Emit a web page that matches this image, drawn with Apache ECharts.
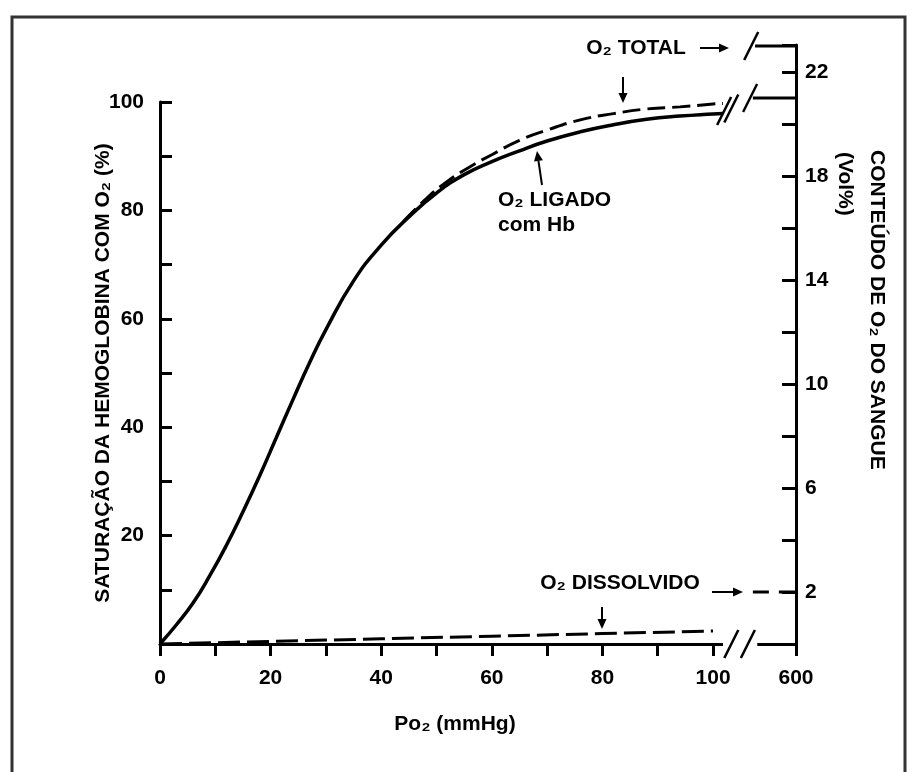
<!DOCTYPE html>
<html>
<head>
<meta charset="utf-8">
<script src="https://cdn.jsdelivr.net/npm/echarts@6/dist/echarts.min.js"></script>
<style>
html, body { margin: 0; padding: 0; background: #fff; }
#chart { width: 917px; height: 772px; }
</style>
</head>
<body>
<div id="chart"></div>
<script>
// O2 ligado com Hb (% de saturação) x Po2 (mmHg)
const po2Hb = [0, 3, 6, 9, 12, 15, 18, 21, 24, 27, 30, 35, 40, 45, 50, 55, 60, 65, 70, 76, 82, 88, 94, 100, 101.8]
const satHb = [0, 3.6, 7.6, 12.6, 18.2, 24.4, 31, 38, 45, 51.8, 58, 67, 73.6, 78.8, 83.2, 86.6, 89, 91, 92.8, 94.5, 95.8, 96.8, 97.4, 97.8, 97.9]

// O2 total (vol%)
const po2Total = [44, 48, 52, 56, 60, 65, 70, 76, 82, 88, 94, 100, 101.8]
const volTotal = [16.25, 17.1, 17.8, 18.35, 18.82, 19.37, 19.77, 20.16, 20.4, 20.58, 20.66, 20.77, 20.79]

// O2 dissolvido (vol%)
const po2Diss = [0, 20, 40, 60, 80, 100]
const volDiss = [0, 0.1, 0.2, 0.3, 0.4, 0.5]

// valores a 600 mmHg (vol%)
const total600 = 23.0
const ligado600 = 21.0
const diss600 = 2.0

// escalas
const xTicks = [0, 10, 20, 30, 40, 50, 60, 70, 80, 90, 100]
const xLabels = [0, 20, 40, 60, 80, 100]
const leftTicks = [10, 20, 30, 40, 50, 60, 70, 80, 90, 100]
const leftLabels = [20, 40, 60, 80, 100]
const rightTicks = [2, 4, 6, 8, 10, 12, 14, 16, 18, 20, 22]
const rightLabels = [2, 6, 10, 14, 18, 22]

// eixo x quebrado: posição do 600 e das marcas de quebra (unidades do eixo)
const X_MAX = 115
const X_600 = 115
const STUB_FROM = 107.2
const GAP = [101.8, 108.0]
const RIGHT_MAX = 23.04

const FONT = '"Liberation Sans", Arial, sans-serif'
const BLACK = '#000'

const toPairs = (xs, ys) => xs.map((x, i) => [x, ys[i]])

const chart = echarts.init(document.getElementById('chart'))

// setas de anotação
const arrow = (x1, y1, x2, y2) => {
  const a = Math.atan2(y2 - y1, x2 - x1)
  const L = 10, W = 4.5
  const bx = x2 - L * Math.cos(a), by = y2 - L * Math.sin(a)
  const px = -Math.sin(a) * W, py = Math.cos(a) * W
  return [
    { type: 'line', shape: { x1, y1, x2: bx, y2: by }, style: { stroke: BLACK, lineWidth: 2 } },
    { type: 'polygon', shape: { points: [[x2, y2], [bx + px, by + py], [bx - px, by - py]] }, style: { fill: BLACK } }
  ]
}

const txt = (text, x, y, opts = {}) => ({
  type: 'text',
  x, y,
  rotation: opts.rotation || 0,
  style: {
    text,
    fill: BLACK,
    font: (opts.weight || 'bold') + ' ' + (opts.size || 21) + 'px ' + FONT,
    textAlign: opts.align || 'center',
    textVerticalAlign: 'middle'
  }
})

const slashItem = (params, api) => {
  const p = api.coord([api.value(0), api.value(1)])
  return {
    type: 'line',
    shape: { x1: p[0] - 7, y1: p[1] + 14, x2: p[0] + 7, y2: p[1] - 14 },
    style: { stroke: BLACK, lineWidth: 2.5 }
  }
}

const option = {
  animation: false,
  textStyle: { fontFamily: FONT },
  grid: [
    { left: 160, right: 121, top: 102, bottom: 128 },
    { left: 160, right: 121, top: 45, bottom: 128 }
  ],
  xAxis: [
    {
      type: 'value', gridIndex: 0, min: 0, max: X_MAX,
      splitLine: { show: false },
      axisLine: { onZero: false, lineStyle: { color: BLACK, width: 3 } },
      axisTick: { customValues: xTicks.concat([X_600]), length: 12, lineStyle: { color: BLACK, width: 3 } },
      axisLabel: {
        customValues: xLabels.concat([X_600]),
        formatter: v => (v >= X_600 ? '600' : String(v)),
        color: BLACK, fontSize: 21, fontWeight: 'bold', margin: 24
      }
    },
    { type: 'value', gridIndex: 1, min: 0, max: X_MAX, show: false }
  ],
  yAxis: [
    {
      type: 'value', gridIndex: 0, position: 'left', min: 0, max: 100,
      splitLine: { show: false },
      axisLine: { show: true, onZero: false, lineStyle: { color: BLACK, width: 3 } },
      axisTick: { show: true, inside: true, customValues: leftTicks, length: 12, lineStyle: { color: BLACK, width: 3 } },
      axisLabel: { customValues: leftLabels, color: BLACK, fontSize: 21, fontWeight: 'bold', margin: 16 },
      name: 'SATURAÇÃO DA HEMOGLOBINA COM O₂ (%)',
      nameLocation: 'middle',
      nameGap: 46,
      nameMoveOverlap: false,
      nameTextStyle: { color: BLACK, fontSize: 21, fontWeight: 'bold' }
    },
    {
      type: 'value', gridIndex: 1, position: 'right', min: 0, max: RIGHT_MAX,
      splitLine: { show: false },
      axisLine: { show: true, onZero: false, lineStyle: { color: BLACK, width: 3 } },
      axisTick: { show: true, inside: true, customValues: rightTicks.concat([RIGHT_MAX]), length: 14, lineStyle: { color: BLACK, width: 3 } },
      axisLabel: { customValues: rightLabels, color: BLACK, fontSize: 21, fontWeight: 'bold', margin: 9 }
    }
  ],
  series: [
    {
      name: 'O2 ligado com Hb', type: 'line', xAxisIndex: 0, yAxisIndex: 0,
      data: toPairs(po2Hb, satHb), showSymbol: false, smooth: 0.5, clip: false,
      lineStyle: { color: BLACK, width: 3.5 }
    },
    {
      name: 'O2 total', type: 'line', xAxisIndex: 1, yAxisIndex: 1,
      data: toPairs(po2Total, volTotal), showSymbol: false, smooth: 0.5,
      lineStyle: { color: BLACK, width: 3, type: [18, 7] }
    },
    {
      name: 'O2 dissolvido', type: 'line', xAxisIndex: 1, yAxisIndex: 1,
      data: toPairs(po2Diss, volDiss), showSymbol: false,
      lineStyle: { color: BLACK, width: 3, type: [22, 7] }
    },
    // valores a 600 mmHg, depois da quebra do eixo
    {
      name: 'O2 total 600', type: 'line', xAxisIndex: 1, yAxisIndex: 1, clip: false,
      data: [[STUB_FROM + 0.4, total600], [X_600, total600]], showSymbol: false,
      lineStyle: { color: BLACK, width: 3 }
    },
    {
      name: 'O2 ligado 600', type: 'line', xAxisIndex: 1, yAxisIndex: 1, clip: false,
      data: [[STUB_FROM, ligado600], [X_600, ligado600]], showSymbol: false,
      lineStyle: { color: BLACK, width: 3 }
    },
    {
      name: 'O2 dissolvido 600', type: 'line', xAxisIndex: 1, yAxisIndex: 1, clip: false,
      data: [[STUB_FROM, diss600], [X_600, diss600]], showSymbol: false,
      lineStyle: { color: BLACK, width: 3, type: [16, 10] }
    },
    // intervalo branco na linha do eixo x
    {
      type: 'custom', xAxisIndex: 1, yAxisIndex: 1, silent: true, clip: false, z: 4,
      data: [GAP],
      renderItem: (params, api) => {
        const a = api.coord([api.value(0), 0])
        const b = api.coord([api.value(1), 0])
        return { type: 'rect', shape: { x: a[0], y: a[1] - 4, width: b[0] - a[0], height: 8 }, style: { fill: '#fff' } }
      }
    },
    // barras de quebra
    {
      type: 'custom', xAxisIndex: 1, yAxisIndex: 1, silent: true, clip: false, z: 5,
      data: [
        [102.0, 20.5], [103.3, 20.6],
        [103.3, 0], [106.3, 0],
        [106.9, total600], [106.7, ligado600]
      ],
      renderItem: slashItem
    }
  ],
  graphic: [
    { type: 'rect', shape: { x: 12, y: 17, width: 893, height: 800 }, style: { fill: 'none', stroke: '#333', lineWidth: 3 }, silent: true },
    txt('Po₂ (mmHg)', 455, 724),
    txt('CONTEÚDO DE O₂ DO SANGUE', 877, 150, { rotation: -Math.PI / 2, align: 'left' }),
    txt('(Vol%)', 845, 152, { rotation: -Math.PI / 2, align: 'left' }),
    txt('O₂ TOTAL', 636, 48),
    ...arrow(700, 48, 729, 48),
    ...arrow(623, 77, 623, 103),
    txt('O₂ LIGADO', 498, 200, { align: 'left' }),
    txt('com Hb', 498, 225, { align: 'left' }),
    ...arrow(542, 185, 537, 151),
    txt('O₂ DISSOLVIDO', 620, 583),
    ...arrow(712, 592, 743, 592),
    ...arrow(602, 607, 602, 629)
  ]
}

chart.setOption(option)
</script>
</body>
</html>
